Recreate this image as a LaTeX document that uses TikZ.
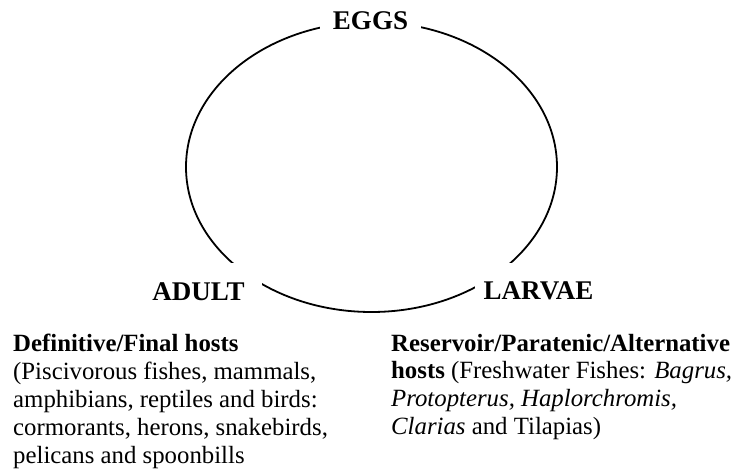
\documentclass[tikz,border=0pt]{standalone}
\usepackage{fontspec}
\setmainfont{Liberation Serif}
\begin{document}
\begin{tikzpicture}[x=1pt,y=-1pt,
  cycleline/.style={line width=1.8pt},
  stage/.style={font=\fontsize{27}{30}\selectfont\bfseries, fill=white, inner ysep=19pt, anchor=base},
  hostblock/.style={font=\fontsize{24.8}{27.9}\selectfont, inner sep=0pt, anchor=base west}]
\fill[white] (0,0) rectangle (732,471);
\useasboundingbox (0,0) rectangle (732,471);
\draw[cycleline] (371.5,167) ellipse [x radius=185.5pt, y radius=145pt];
\node[stage, inner xsep=13pt, inner ysep=8pt] (eggs) at (370.5,29.3) {EGGS};
\node[stage, inner xsep=17pt] (adult) at (198.5,300) {ADULT};
\node[stage, inner xsep=9pt] (larvae) at (538.5,299.5) {LARVAE};
\node[hostblock] (final) at (13,351.5) {\begin{tabular}[t]{@{}l@{}}
\textbf{Definitive/Final hosts}\\
(Piscivorous fishes, mammals,\\
amphibians, reptiles and birds:\\
cormorants, herons, snakebirds,\\
pelicans and spoonbills
\end{tabular}};
\node[hostblock] (reservoir) at (391,351) {\begin{tabular}[t]{@{}l@{}}
\textbf{Reservoir/Paratenic/Alternative}\\
\textbf{hosts} (Freshwater Fishes: \textit{Bagrus,}\\
\textit{Protopterus, Haplorchromis,}\\
\textit{Clarias} and Tilapias)
\end{tabular}};
\end{tikzpicture}
\end{document}
